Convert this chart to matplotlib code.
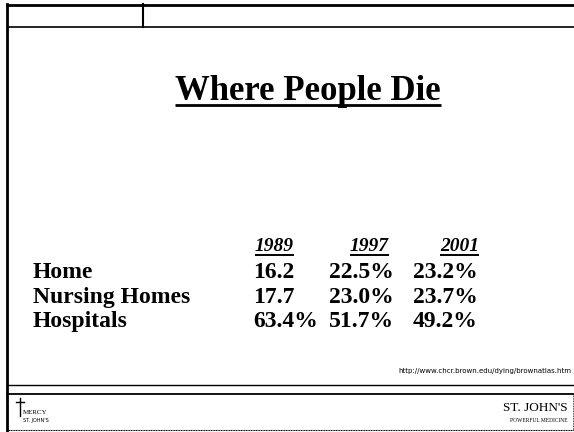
import matplotlib
matplotlib.use("Agg")
import matplotlib.pyplot as plt

title = "Where People Die"
years = ["1989", "1997", "2001"]
categories = ["Home", "Nursing Homes", "Hospitals"]
values = [
    ["16.2", "22.5%", "23.2%"],
    ["17.7", "23.0%", "23.7%"],
    ["63.4%", "51.7%", "49.2%"],
]
source = "http://www.chcr.brown.edu/dying/brownatlas.htm"

W, H = 574, 432
fig = plt.figure(figsize=(W / 100, H / 100), dpi=100)
ax = fig.add_axes([0, 0, 1, 1])
ax.set_xlim(0, W)
ax.set_ylim(H, 0)
ax.axis("off")

serif = "Liberation Serif"

# frame lines
ax.plot([7, 7], [4, 432], color="black", lw=2)
ax.plot([7, 574], [4.5, 4.5], color="black", lw=2)
ax.plot([7, 574], [27, 27], color="black", lw=1.2)
ax.plot([143, 143], [4, 27], color="black", lw=1.5)
ax.plot([7, 574], [385, 385], color="black", lw=1.0)
ax.plot([7, 574], [394, 394], color="black", lw=1.3)
ax.plot([7, 574], [430, 430], color="black", lw=0.8, ls=(0, (1, 0.5)))
ax.plot([573, 573], [394, 430], color="black", lw=0.6, ls=(0, (1, 1)))

fig.canvas.draw()
renderer = fig.canvas.get_renderer()
inv = ax.transData.inverted()


def underline(t, y, lw):
    bb = t.get_window_extent(renderer)
    (x0, _), (x1, _) = inv.transform([[bb.x0, bb.y0], [bb.x1, bb.y1]])
    ax.plot([x0, x1], [y, y], color="black", lw=lw, solid_capstyle="butt")


# title
t = ax.text(308, 100, title, family=serif, weight="bold", fontsize=25,
            ha="center", va="baseline")
underline(t, 104.5, 2.0)

# column headers
col_x = [255, 350, 440]
for x, yr in zip(col_x, years):
    t = ax.text(x, 251, yr, family=serif, weight="bold", style="italic",
                fontsize=14, ha="left", va="baseline")
    underline(t, 255, 1.4)

# rows
row_y = [278, 303, 327]
val_x = [253, 329, 413]
for y, cat, row in zip(row_y, categories, values):
    ax.text(33, y, cat, family=serif, weight="bold", fontsize=17,
            ha="left", va="baseline")
    for x, v in zip(val_x, row):
        ax.text(x, y, v, family=serif, weight="bold", fontsize=17,
                ha="left", va="baseline")

# source
ax.text(571, 373, source, family="DejaVu Sans", fontsize=5.0,
        ha="right", va="baseline")

# logos
ax.text(568, 411, "ST. JOHN'S", family=serif, fontsize=9.5,
        ha="right", va="baseline")
ax.text(568, 422, "POWERFUL MEDICINE", family=serif, fontsize=4,
        ha="right", va="baseline")
ax.plot([20, 20], [398, 416], color="black", lw=1)
ax.plot([16, 24], [402, 402], color="black", lw=1)
ax.text(23, 414, "MERCY", family=serif, fontsize=5, ha="left", va="baseline")
ax.text(23, 422, "ST. JOHN'S", family="DejaVu Sans", fontsize=3.5,
        ha="left", va="baseline")

fig.savefig("out.png", dpi=100)
